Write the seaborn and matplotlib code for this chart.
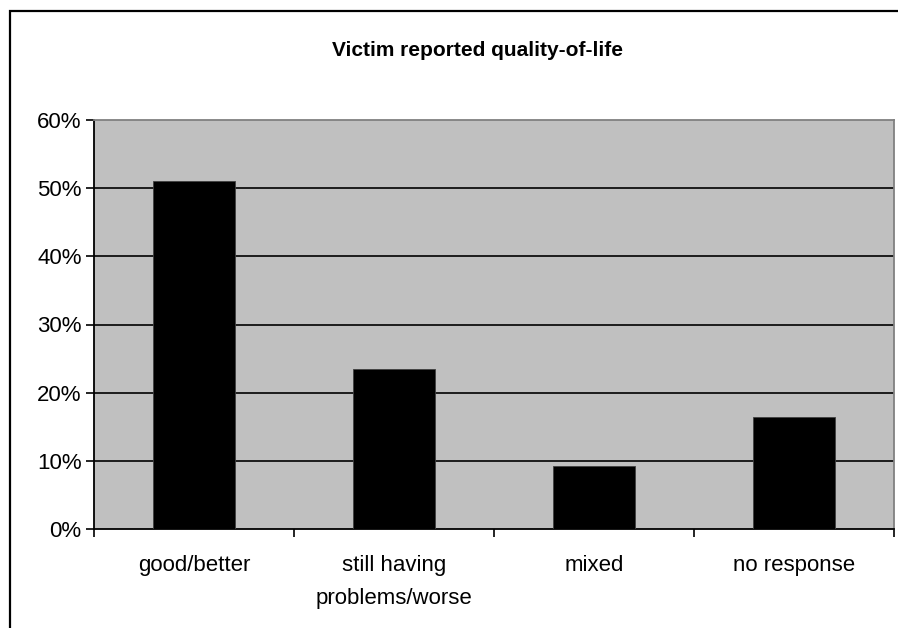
import matplotlib
matplotlib.use("Agg")
import matplotlib.pyplot as plt
import seaborn as sns
import pandas as pd
from matplotlib.patches import Rectangle
from matplotlib.ticker import FixedLocator, PercentFormatter

categories = ["good/better", "still having\nproblems/worse", "mixed", "no response"]
values = [51.1, 23.4, 9.3, 16.4]
yticks = [0, 10, 20, 30, 40, 50, 60]

sns.set_theme(style="white")
plt.rcParams['font.family'] = ['Liberation Sans', 'DejaVu Sans']
plt.rcParams['text.color'] = 'black'

df = pd.DataFrame({"category": categories, "value": values})

W, H = 898, 628
fig = plt.figure(figsize=(W / 100, H / 100), dpi=100)
fig.patch.set_facecolor("white")
left, right, top, bottom = 94, 894, 120, 529
ax = fig.add_axes([left / W, 1 - bottom / H, (right - left) / W, (bottom - top) / H])
ax.set_facecolor("#c0c0c0")

sns.barplot(data=df, x="category", y="value", color="black", width=0.41,
            edgecolor="#404040", linewidth=0.6, saturation=1, ax=ax, zorder=3)

ax.set_xlim(-0.5, len(categories) - 0.5)
ax.set_ylim(0, 60)
ax.set_yticks(yticks)
ax.yaxis.set_major_formatter(PercentFormatter(decimals=0))
for y in yticks[1:-1]:
    ax.axhline(y, color="black", linewidth=1.2, zorder=2)

ax.set_xlabel("")
ax.set_ylabel("")
ax.xaxis.set_minor_locator(FixedLocator([i - 0.5 for i in range(len(categories) + 1)]))
ax.tick_params(axis="x", which="major", length=0, pad=18.5, labelsize=16, colors="black")
ax.tick_params(axis="x", which="minor", length=6, width=1.2, color="black", direction="out", bottom=True)
ax.tick_params(axis="y", which="major", length=6, width=1.2, color="black", direction="out",
               left=True, labelsize=16, pad=3, colors="black")
for lbl in ax.get_xticklabels():
    lbl.set_linespacing(1.8)
    lbl.set_verticalalignment("top")

for side in ["left", "bottom"]:
    ax.spines[side].set_color("black")
    ax.spines[side].set_linewidth(1.3)
for side in ["top", "right"]:
    ax.spines[side].set_color("#808080")
    ax.spines[side].set_linewidth(1.3)
    ax.spines[side].set_visible(True)

fig.text(477 / W, 1 - 50 / H, "Victim reported quality-of-life",
         ha="center", va="center", fontsize=15, fontweight="bold", color="black")

fig.patches.append(Rectangle((10 / W, -0.05), 1.1, 1 - 11 / H + 0.05,
                             transform=fig.transFigure, fill=False,
                             edgecolor="black", linewidth=1.6))

fig.savefig("out.png", dpi=100)
